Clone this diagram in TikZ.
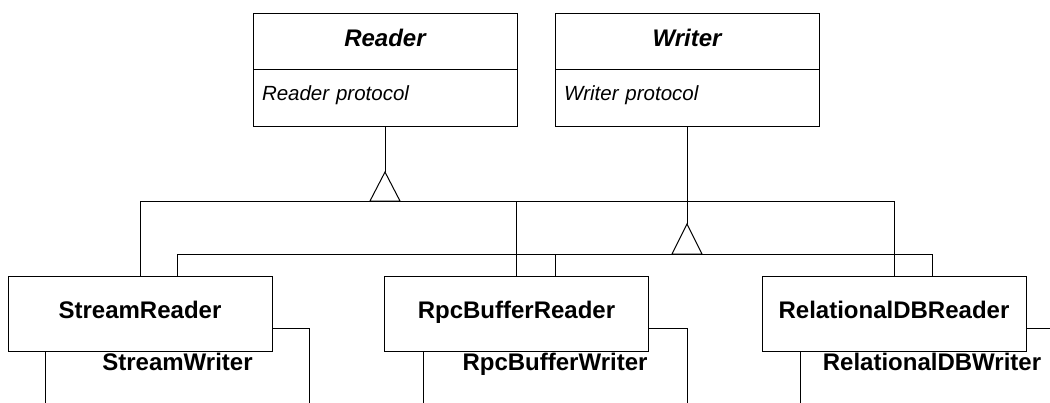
\documentclass[tikz,border=0pt]{standalone}
\usepackage{fontspec}
\setmainfont{Liberation Sans}
\begin{document}
\begin{tikzpicture}[x=1pt,y=-1pt,line width=1pt,
  classtitle/.style={draw,fill=white,minimum width=264pt,minimum height=56pt,inner sep=0pt,
    font=\fontsize{24pt}{26pt}\selectfont\bfseries\itshape,text height=17pt,text depth=7pt},
  classbody/.style={draw,fill=white,minimum width=264pt,minimum height=57pt,inner xsep=9pt,inner ysep=0pt,
    text width=246pt,align=left,font=\fontsize{20.5pt}{22pt}\selectfont\itshape,text height=14pt,text depth=9pt},
  subclass/.style={draw,fill=white,minimum width=264pt,minimum height=75pt,inner sep=0pt,
    font=\fontsize{24pt}{26pt}\selectfont\bfseries,text height=17pt,text depth=8pt},
  gen/.style={line width=1pt}]
\useasboundingbox (0,0) rectangle (1050,402);
\clip (0,0) rectangle (1050,402);
% abstract classes
\node[classtitle] (rt) at (385,41) {Reader};
\node[classbody] (rb) at (385,97.5) {Reader protocol};
\node[classtitle] (wt) at (687,41) {Writer};
\node[classbody] (wb) at (687,97.5) {Writer protocol};
% writer subclasses (behind)
\node[subclass] (SW) at (177.5,365.5) {StreamWriter};
\node[subclass] (WBR) at (555,365.5) {RpcBufferWriter};
\node[subclass] (WDB) at (932,365.5) {RelationalDBWriter};
% reader hierarchy
\coordinate (rtip) at (385,172);
\coordinate (rbase) at (385,201);
\draw[gen] (rb.south) -- (rtip);
\draw[gen] (rtip) -- ++(-15,29) -- ++(30,0) -- cycle;
% writer hierarchy
\coordinate (wtip) at (687,224);
\coordinate (wbase) at (687,254);
\draw[gen] (wb.south) -- (wtip);
\draw[gen] (wtip) -- ++(-15,30) -- ++(30,0) -- cycle;
% reader subclasses (front)
\coordinate (SRn) at (140,276);
\coordinate (RBRn) at (516.5,276);
\coordinate (RDBn) at (894,276);
\draw[gen] (SRn) |- (RDBn |- rbase) -- (RDBn);
\draw[gen] (RBRn) -- (RBRn |- rbase);
\draw[gen] (SW.north) |- (WDB.north |- wbase) -- (WDB.north);
\draw[gen] (WBR.north) -- (WBR.north |- wbase);
\node[subclass] (SR) at (140,313.5) {StreamReader};
\node[subclass] (RBR) at (516.5,313.5) {RpcBufferReader};
\node[subclass] (RDB) at (894,313.5) {RelationalDBReader};
\end{tikzpicture}
\end{document}
